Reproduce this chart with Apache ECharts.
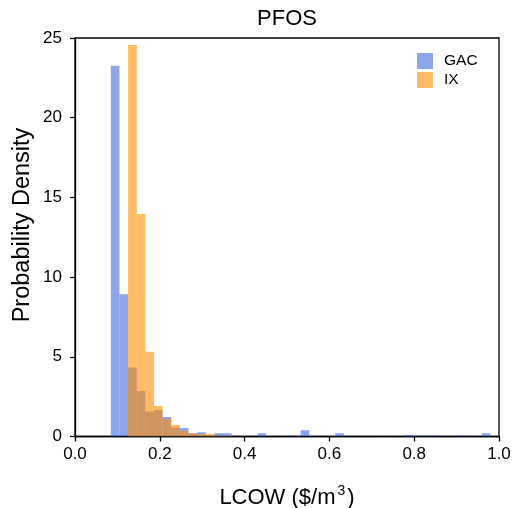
<!DOCTYPE html>
<html>
<head>
<meta charset="utf-8">
<script src="https://cdn.jsdelivr.net/npm/echarts@6/dist/echarts.min.js"></script>
<style>html,body{margin:0;padding:0;background:#fff}#c{width:512px;height:508px}</style>
</head>
<body>
<div id="c"></div>
<script>
// Histogram bin edges (LCOW, $/m3)
var binEdges = [0.0845,0.1049,0.1252,0.1456,0.1659,0.1863,0.2066,0.2270,0.2473,0.2677,
  0.2880,0.3084,0.3287,0.3491,0.3694,0.3898,0.4101,0.4305,0.4508,0.4712,
  0.4915,0.5119,0.5322,0.5526,0.5729,0.5933,0.6136,0.6340,0.6543,0.6747,
  0.6950,0.7154,0.7357,0.7561,0.7764,0.7968,0.8171,0.8375,0.8578,0.8782,
  0.8985,0.9189,0.9392,0.9596,0.9799];
// Probability density per bin
var gacDensity = [23.26,8.92,4.33,2.85,1.57,1.66,1.22,0.57,0.53,0.20,
  0.27,0.05,0.20,0.20,0.05,0,0,0.20,0,0,
  0.05,0.05,0.39,0.05,0,0,0.20,0,0,0,
  0,0.05,0,0,0.10,0.05,0.05,0.05,0,0,
  0.05,0.05,0,0.20];
var ixDensity = [0,0,24.56,13.96,5.32,1.91,1.11,0.72,0.34,0.19,
  0.15,0.15,0.05,0.05,0,0,0,0,0,0,
  0,0,0,0,0,0,0,0,0,0,
  0,0,0,0,0,0,0,0,0,0,
  0,0,0,0];
var xTicks = [0, 0.2, 0.4, 0.6, 0.8, 1.0];
var yTicks = [0, 5, 10, 15, 20, 25];

function toBins(vals){
  var out = [];
  for (var i = 0; i < vals.length; i++) out.push([binEdges[i], binEdges[i+1], vals[i]]);
  return out;
}
function renderBar(params, api){
  var p0 = api.coord([api.value(0), api.value(2)]);
  var p1 = api.coord([api.value(1), 0]);
  return {
    type: 'rect',
    shape: {x: p0[0], y: p0[1], width: p1[0]-p0[0], height: p1[1]-p0[1]},
    style: {fill: api.visual('color')}
  };
}
var FONT = "'Liberation Sans', Arial, sans-serif";
var chart = echarts.init(document.getElementById('c'), null, {renderer: 'canvas'});
chart.setOption({
  animation: false,
  title: {text: 'PFOS', left: 287, textAlign: 'center', top: 8, padding: 0,
    textStyle: {fontFamily: FONT, fontSize: 22, fontWeight: 'normal', color: '#000'}},
  legend: {
    orient: 'vertical', left: 417, top: 53, itemWidth: 16, itemHeight: 16, itemGap: 3,
    padding: 0, icon: 'rect',
    textStyle: {fontFamily: FONT, fontSize: 15.5, color: '#000', padding: [0,0,0,6]},
    data: ['GAC', 'IX']
  },
  graphic: [{
    type: 'text', x: 23, y: 225, rotation: Math.PI / 2,
    style: {text: 'Probability Density', fontFamily: FONT, fontSize: 23.5, fill: '#000',
      align: 'center', verticalAlign: 'middle'}
  }],
  grid: {left: 75, right: 13, top: 38, bottom: 71.5, outerBoundsMode: 'none', containLabel: false,
    show: true, borderColor: '#000', borderWidth: 1.3, backgroundColor: 'transparent'},
  xAxis: {
    type: 'value', min: xTicks[0], max: xTicks[xTicks.length-1], interval: 0.2,
    name: 'LCOW ($/m{s|3})', nameLocation: 'middle', nameGap: 48,
    nameTextStyle: {fontFamily: FONT, fontSize: 22, color: '#000',
      rich: {s: {fontFamily: FONT, fontSize: 14, color: '#000', padding: [0,2,12,2]}}},
    axisLine: {show: true, lineStyle: {color: '#000', width: 1.3}},
    axisTick: {show: true, length: 5, lineStyle: {color: '#000', width: 1.3}},
    axisLabel: {fontFamily: FONT, fontSize: 17, color: '#000', margin: 9,
      formatter: function(v){ return v.toFixed(1); }},
    splitLine: {show: false}
  },
  yAxis: {
    type: 'value', min: yTicks[0], max: yTicks[yTicks.length-1], interval: 5,
    axisLine: {show: true, lineStyle: {color: '#000', width: 1.3}},
    axisTick: {show: true, length: 5, lineStyle: {color: '#000', width: 1.3}},
    axisLabel: {fontFamily: FONT, fontSize: 17, color: '#000', margin: 13},
    splitLine: {show: false}
  },
  series: [
    {name: 'GAC', type: 'custom', renderItem: renderBar, clip: true,
      itemStyle: {color: 'rgba(65,105,225,0.6)'},
      encode: {x: [0,1], y: 2}, data: toBins(gacDensity)},
    {name: 'IX', type: 'custom', renderItem: renderBar, clip: true,
      itemStyle: {color: 'rgba(255,140,0,0.6)'},
      encode: {x: [0,1], y: 2}, data: toBins(ixDensity)}
  ]
});
</script>
</body>
</html>
